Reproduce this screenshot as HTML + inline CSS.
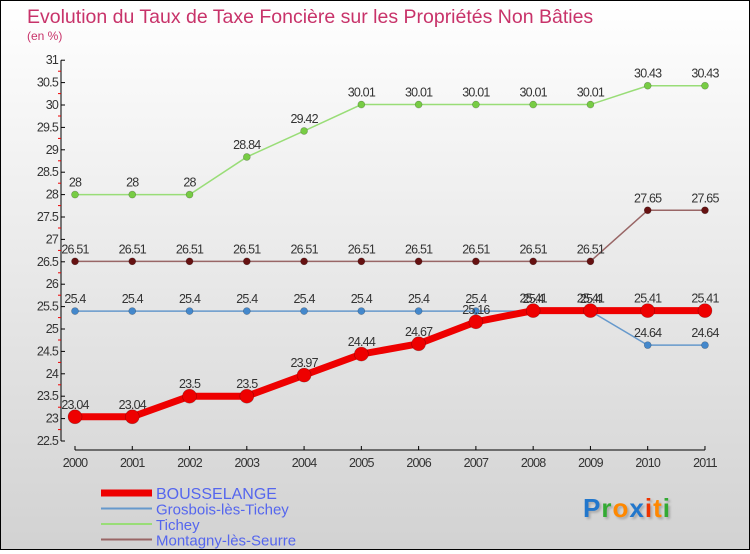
<!DOCTYPE html>
<html><head><meta charset="utf-8"><style>
html,body{margin:0;padding:0}
body{width:750px;height:550px;overflow:hidden;font-family:"Liberation Sans",sans-serif}
#wrap{position:relative;width:748px;height:548px;border:1px solid #000;background:linear-gradient(#ffffff,#d2d2d2)}
svg text{font-family:"Liberation Sans",sans-serif}
</style></head><body>
<div id="wrap">
<svg id="c" width="748" height="548"></svg>
</div>
<script>
const years=[2000,2001,2002,2003,2004,2005,2006,2007,2008,2009,2010,2011];
const bousselange=[23.04,23.04,23.5,23.5,23.97,24.44,24.67,25.16,25.41,25.41,25.41,25.41];
const grosbois=[25.4,25.4,25.4,25.4,25.4,25.4,25.4,25.4,25.4,25.4,24.64,24.64];
const tichey=[28,28,28,28.84,29.42,30.01,30.01,30.01,30.01,30.01,30.43,30.43];
const montagny=[26.51,26.51,26.51,26.51,26.51,26.51,26.51,26.51,26.51,26.51,27.65,27.65];
const yTicks=[22.5,23,23.5,24,24.5,25,25.5,26,26.5,27,27.5,28,28.5,29,29.5,30,30.5,31];
const yTickLabels=["22.5","23","23.5","24","24.5","25","25.5","26","26.5","27","27.5","28","28.5","29","29.5","30","30.5","31"];
const seriesNames=["BOUSSELANGE","Grosbois-lès-Tichey","Tichey","Montagny-lès-Seurre"];

const NS="http://www.w3.org/2000/svg";
const svg=document.getElementById('c');
const xs=y=>74+(y-2000)*57.27;
const ys=v=>440-(v-22.5)*44.8;
function mk(t,a,p){const e=document.createElementNS(NS,t);for(const k in a)e.setAttribute(k,a[k]);(p||svg).appendChild(e);return e;}

let t=mk('text',{x:26,y:22,'font-size':19.5,fill:'#c8336a'});t.textContent="Evolution du Taux de Taxe Foncière sur les Propriétés Non Bâties";

t=mk('text',{x:26,y:39,'font-size':12,fill:'#c8336a'});t.textContent="(en %)";


let ax=mk('g',{});
mk('line',{x1:60,y1:ys(31),x2:60,y2:ys(22.5),stroke:'#000'},ax);
yTicks.forEach((v,i)=>{
  mk('line',{x1:60,y1:ys(v),x2:64,y2:ys(v),stroke:'#000'},ax);
  if(i>0) mk('line',{x1:57,y1:ys(v)+11,x2:60,y2:ys(v)+11,stroke:'#e00'},ax);
  const l=mk('text',{x:57,y:ys(v)+4,'font-size':12.5,fill:'#333','text-anchor':'end','letter-spacing':'-0.8'},ax);l.textContent=yTickLabels[i];
  
});
let xa=mk('g',{});
mk('line',{x1:xs(2000),y1:449,x2:xs(2011),y2:449,stroke:'#000'},xa);
years.forEach(y=>{
  mk('line',{x1:xs(y),y1:445,x2:xs(y),y2:449,stroke:'#000'},xa);
  const l=mk('text',{x:xs(y),y:466,'font-size':12.5,fill:'#333','text-anchor':'middle','letter-spacing':'-0.8'},xa);l.textContent=y;
  
});

function series(vals,name,color,w,r,dot){
  const g=mk('g',{});
  mk('polyline',{points:vals.map((v,i)=>xs(years[i])+','+ys(v)).join(' '),fill:'none',stroke:color,'stroke-width':w},g);
  vals.forEach((v,i)=>{
    const c=mk('circle',{cx:xs(years[i]),cy:ys(v),r:r,fill:dot,stroke:'rgba(0,0,0,0.3)','stroke-width':0.6},g);
    
    const l=mk('text',{x:xs(years[i]),y:ys(v)-8,'font-size':12.5,fill:'#333','text-anchor':'middle','letter-spacing':'-0.8'},g);
    l.textContent=String(v);
    
  });
}
series(tichey,'series-tichey','#99dd77',1.5,3.5,'#77cc44');
series(montagny,'series-montagny','#996666',1.5,3.5,'#661111');
series(grosbois,'series-grosbois','#6699cc',1.5,3.5,'#4488cc');
series(bousselange,'series-bousselange','#ee0000',7,7,'#ee0000');

const lg=mk('g',{});
const lc=['#ee0000','#6699cc','#99dd77','#996666'],lw=[7,2,2,2];
seriesNames.forEach((n,i)=>{
  const y=492+i*15.5;
  const e=mk('g',{},lg);
  mk('line',{x1:100,y1:y,x2:151,y2:y,stroke:lc[i],'stroke-width':lw[i]},e);
  const l=mk('text',{x:155,y:y+6,'font-size':i==0?16:15,fill:'#5566ee'},e);l.textContent=n;
});

const lo=mk('text',{x:582,y:516,'font-size':26,'font-weight':'bold','letter-spacing':'1',style:'text-shadow:2px 2px 2px #aaa'});

[['P','#2277cc'],['r','#33aa33'],['o','#ff8800'],['x','#2277cc'],['i','#ee3300'],['t','#ff8800'],['i','#33aa33']].forEach(([c,f])=>{const s=mk('tspan',{fill:f},lo);s.textContent=c;});
</script>
</body></html>
